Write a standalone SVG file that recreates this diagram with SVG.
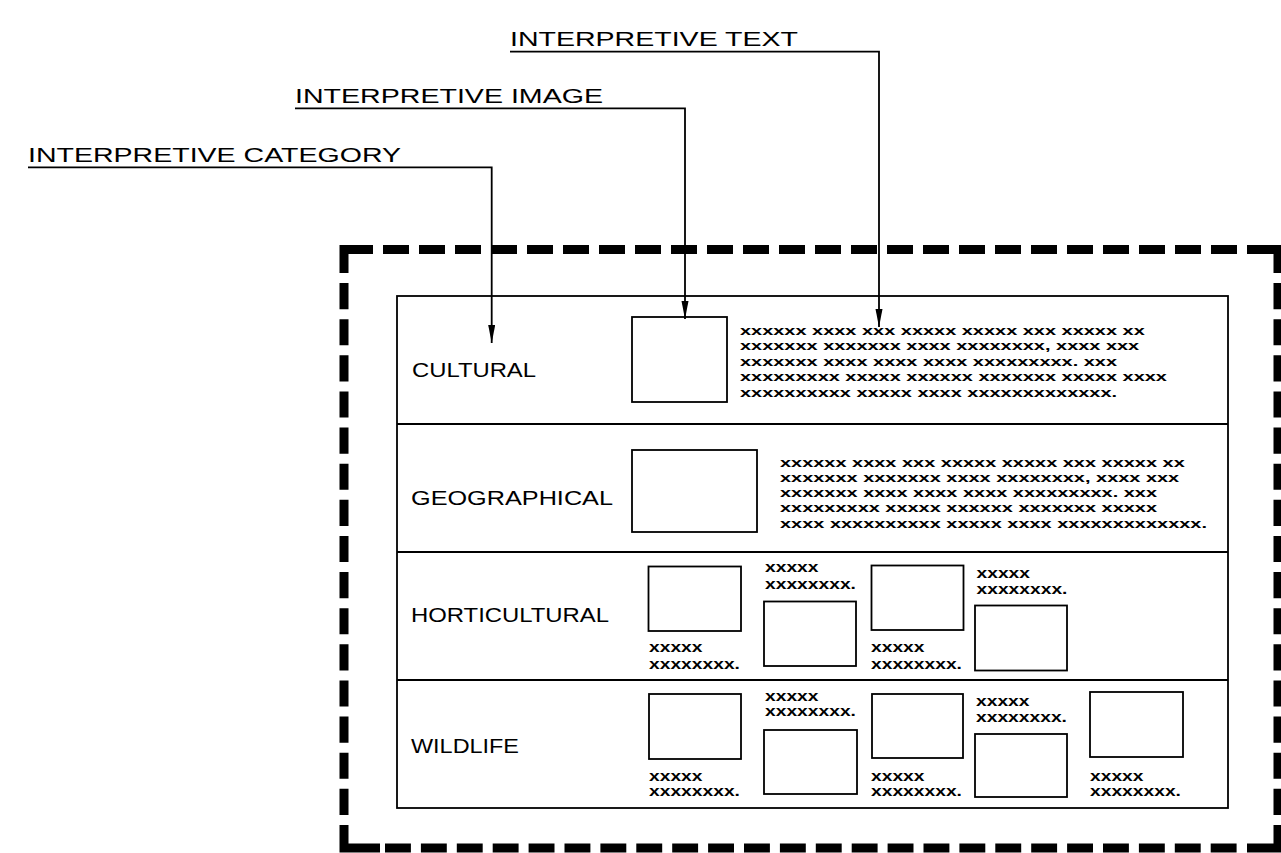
<svg xmlns="http://www.w3.org/2000/svg" width="1281" height="853" viewBox="0 0 1281 853">
<style>
.lbl{font-family:"Liberation Sans",Arial,sans-serif;font-size:21px;fill:#000}
.tx{font-family:"Liberation Sans",Arial,sans-serif;font-size:13px;font-weight:bold;fill:#000}
.cp{font-family:"Liberation Sans",Arial,sans-serif;font-size:15px;font-weight:bold;fill:#000}
.box{fill:none;stroke:#000;stroke-width:1.8}
.ln{fill:none;stroke:#000;stroke-width:1.8}
.dash{fill:none;stroke:#000;stroke-width:9;stroke-linecap:butt}
.corner{fill:none;stroke:#000;stroke-width:9;stroke-linecap:butt;stroke-linejoin:miter}
</style>
<defs>
<marker id="arr" markerUnits="userSpaceOnUse" markerWidth="19" markerHeight="8" refX="18" refY="3.5" orient="auto">
<path d="M0,0 L18,3.5 L0,7 Z" fill="#000"/>
</marker>
</defs>
<rect width="1281" height="853" fill="#fff"/>

<g id="frame">
<path class="corner" d="M344,273 V249.5 H373"/>
<path class="corner" d="M1247,249.5 H1278 V273"/>
<path class="corner" d="M344,825 V848 H380"/>
<path class="corner" d="M1247,848 H1278 V825"/>
<path class="dash" d="M383,249.5 H1237" stroke-dasharray="26 10"/>
<path class="dash" d="M385,848 H1237" stroke-dasharray="25.9 10"/>
<path class="dash" d="M344,283 V815" stroke-dasharray="26.13 10"/>
<path class="dash" d="M1278,283 V815" stroke-dasharray="26.13 10"/>
</g>

<g id="panel">
<rect class="box" x="397" y="296" width="831" height="512"/>
<line class="ln" x1="397" y1="424" x2="1228" y2="424"/>
<line class="ln" x1="397" y1="552" x2="1228" y2="552"/>
<line class="ln" x1="397" y1="680" x2="1228" y2="680"/>
</g>

<g id="label-text">
<text class="lbl" x="510" y="46" textLength="288" lengthAdjust="spacingAndGlyphs">INTERPRETIVE TEXT</text>
</g>
<g id="label-image">
<text class="lbl" x="295" y="103" textLength="308" lengthAdjust="spacingAndGlyphs">INTERPRETIVE IMAGE</text>
</g>
<g id="label-category">
<text class="lbl" x="28" y="162" textLength="373" lengthAdjust="spacingAndGlyphs">INTERPRETIVE CATEGORY</text>
</g>

<g id="connectors">
<path class="ln" d="M510,51.7 H879 V327" marker-end="url(#arr)"/>
<path class="ln" d="M295,108.3 H685 V319" marker-end="url(#arr)"/>
<path class="ln" d="M28,167.3 H491.7 V343" marker-end="url(#arr)"/>
</g>

<g id="row-cultural">
<text class="lbl" x="412" y="376.5" textLength="124" lengthAdjust="spacingAndGlyphs">CULTURAL</text>
<rect class="box" x="632" y="317" width="95" height="85"/>
<text class="tx" transform="translate(740 334.5) scale(1.535 1)"><tspan x="0" y="0">xxxxxx xxxx xxx xxxxx xxxxx xxx xxxxx xx</tspan><tspan x="0" y="15.6">xxxxxxx xxxxxxx xxxx xxxxxxxx, xxxx xxx</tspan><tspan x="0" y="31.2">xxxxxxx xxxx xxxx xxxx xxxxxxxxx. xxx</tspan><tspan x="0" y="46.8">xxxxxxxxx xxxxx xxxxxx xxxxxxx xxxxx xxxx</tspan><tspan x="0" y="62.4">xxxxxxxxxx xxxxx xxxx xxxxxxxxxxxxx.</tspan></text>
</g>

<g id="row-geographical">
<text class="lbl" x="411" y="504.5" textLength="202" lengthAdjust="spacingAndGlyphs">GEOGRAPHICAL</text>
<rect class="box" x="632" y="450" width="125" height="82"/>
<text class="tx" transform="translate(780 466.8) scale(1.535 1)"><tspan x="0" y="0">xxxxxx xxxx xxx xxxxx xxxxx xxx xxxxx xx</tspan><tspan x="0" y="15.2">xxxxxxx xxxxxxx xxxx xxxxxxxx, xxxx xxx</tspan><tspan x="0" y="30.4">xxxxxxx xxxx xxxx xxxx xxxxxxxxx. xxx</tspan><tspan x="0" y="45.6">xxxxxxxxx xxxxx xxxxxx xxxxxxx xxxxx</tspan><tspan x="0" y="60.8">xxxx xxxxxxxxxx xxxxx xxxx xxxxxxxxxxxxx.</tspan></text>
</g>

<g id="row-horticultural">
<text class="lbl" x="411" y="621.5" textLength="198" lengthAdjust="spacingAndGlyphs">HORTICULTURAL</text>
<rect class="box" x="648.5" y="566.5" width="92.5" height="64.5"/>
<rect class="box" x="764" y="601.5" width="92" height="64.5"/>
<rect class="box" x="871.5" y="565.5" width="92" height="64.5"/>
<rect class="box" x="975" y="605.5" width="92" height="65"/>
<text class="cp" transform="translate(649 652) scale(1.283 1)"><tspan x="0" y="0">xxxxx</tspan><tspan x="0" y="17.5">xxxxxxxx.</tspan></text>
<text class="cp" transform="translate(765 572.3) scale(1.283 1)"><tspan x="0" y="0">xxxxx</tspan><tspan x="0" y="17">xxxxxxxx.</tspan></text>
<text class="cp" transform="translate(871 652) scale(1.283 1)"><tspan x="0" y="0">xxxxx</tspan><tspan x="0" y="17.5">xxxxxxxx.</tspan></text>
<text class="cp" transform="translate(976.5 578.3) scale(1.283 1)"><tspan x="0" y="0">xxxxx</tspan><tspan x="0" y="16">xxxxxxxx.</tspan></text>
</g>

<g id="row-wildlife">
<text class="lbl" x="411" y="752.5" textLength="108" lengthAdjust="spacingAndGlyphs">WILDLIFE</text>
<rect class="box" x="649" y="694" width="92" height="65"/>
<rect class="box" x="764" y="730" width="93" height="64"/>
<rect class="box" x="872" y="694" width="91" height="64"/>
<rect class="box" x="975" y="734" width="92" height="63"/>
<rect class="box" x="1090" y="692" width="93" height="65"/>
<text class="cp" transform="translate(649 780.5) scale(1.283 1)"><tspan x="0" y="0">xxxxx</tspan><tspan x="0" y="16">xxxxxxxx.</tspan></text>
<text class="cp" transform="translate(765 700.5) scale(1.283 1)"><tspan x="0" y="0">xxxxx</tspan><tspan x="0" y="16">xxxxxxxx.</tspan></text>
<text class="cp" transform="translate(871 780.5) scale(1.283 1)"><tspan x="0" y="0">xxxxx</tspan><tspan x="0" y="16">xxxxxxxx.</tspan></text>
<text class="cp" transform="translate(976 706) scale(1.283 1)"><tspan x="0" y="0">xxxxx</tspan><tspan x="0" y="16.5">xxxxxxxx.</tspan></text>
<text class="cp" transform="translate(1090 780.5) scale(1.283 1)"><tspan x="0" y="0">xxxxx</tspan><tspan x="0" y="16">xxxxxxxx.</tspan></text>
</g>
</svg>
